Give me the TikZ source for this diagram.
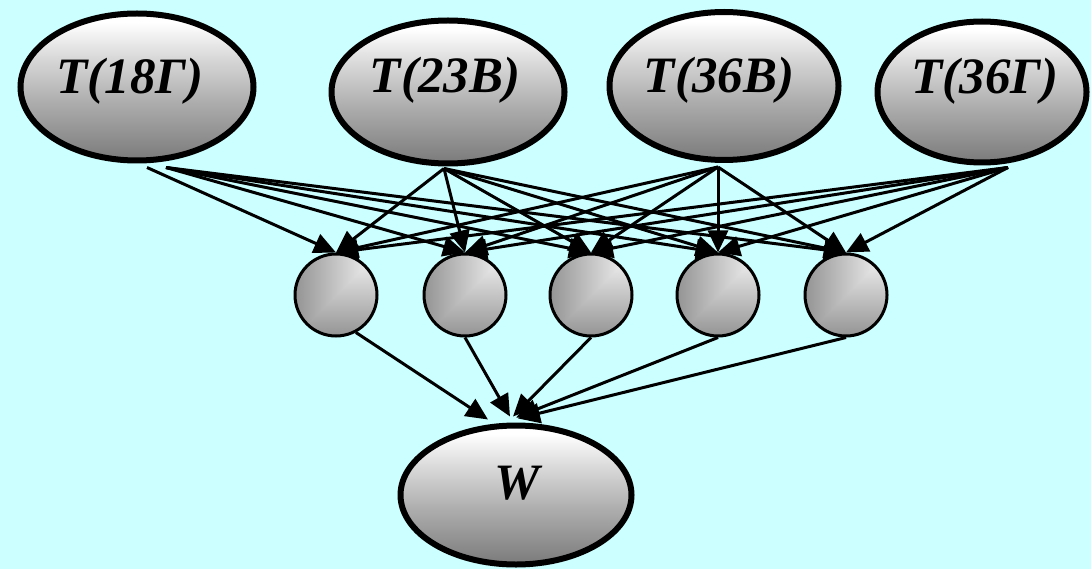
\documentclass[tikz,border=0pt]{standalone}
\usepackage{fontspec}
\setmainfont{Liberation Serif}
\usetikzlibrary{arrows.meta,shapes.geometric}
\definecolor{bgcyan}{HTML}{CCFFFF}
% white-to-grey fill for the ellipses, white on top
\pgfdeclareverticalshading{ovalfill}{100bp}{
  color(0bp)=(black!52); color(25bp)=(black!52); color(45bp)=(black!32);
  color(60bp)=(black!15); color(72bp)=(white); color(100bp)=(white)}
% corner fill for the hidden units: lightest at the upper right corner
\pgfdeclarefunctionalshading{unitfill}{\pgfpoint{0bp}{0bp}}{\pgfpoint{100bp}{100bp}}{}{
  25 sub 50 div 1 exch sub
  exch 25 sub 50 div 1 exch sub
  2 copy lt {exch} if pop
  0.38 mul 0.96 exch sub dup dup}
\begin{document}
\begin{tikzpicture}[x=1pt,y=-1pt,
  tell/.style={ellipse, draw=black, line width=6pt, inner sep=0pt,
    shading=ovalfill},
  hid/.style={circle, draw=black, line width=3pt, inner sep=0pt,
    minimum size=82pt, shading=unitfill},
  ttext/.style={anchor=base, inner sep=0pt,
    font=\fontsize{51}{54}\selectfont\bfseries\itshape},
  link/.style={line width=3pt, -{Triangle[length=22pt,width=20pt]}}]
  % canvas
  \fill[bgcyan] (0,0) rectangle (1091,569);
  \useasboundingbox (0,0) rectangle (1091,569);

  % input variables
  \node[tell, minimum width=233pt, minimum height=147pt] (t1) at (137,87) {};
  \node[tell, minimum width=233pt, minimum height=143pt] (t2) at (448,92) {};
  \node[tell, minimum width=229pt, minimum height=148pt] (t3) at (724,86) {};
  \node[tell, minimum width=209pt, minimum height=141pt] (t4) at (982,92) {};
  \node[ttext] at (130,94) {T(18Г)};
  \node[ttext] at (445,93) {T(23В)};
  \node[ttext] at (719,93) {T(36В)};
  \node[ttext] at (985,94) {T(36Г)};

  % hidden layer
  \node[hid] (c1) at (336,295) {};
  \node[hid] (c2) at (465,295) {};
  \node[hid] (c3) at (591,295) {};
  \node[hid] (c4) at (718,295) {};
  \node[hid] (c5) at (846,295) {};

  % output
  \node[tell, minimum width=231pt, minimum height=139pt] (w) at (516,495) {};
  \node[ttext] at (517,499) {W};

  % input -> hidden
  \draw[link] ([xshift=10pt,yshift=-4pt]t1.south) -- (c1.north);
  \foreach \c in {c2,c3,c4,c5}
    \draw[link] ([xshift=29pt,yshift=-4pt]t1.south) -- (\c.north);
  \foreach \c in {c1,c2,c3,c4,c5}{
    \draw[link] ([xshift=-4pt,yshift=-2pt]t2.south) -- (\c.north);
    \draw[link] ([xshift=-6pt,yshift=-4pt]t3.south) -- (\c.north);
    \draw[link] ([xshift=26pt,yshift=-2pt]t4.south) -- (\c.north);
  }

  % hidden -> output
  \draw[link] (c1.-62) -- ([xshift=-28pt,yshift=3pt]w.north);
  \draw[link] (c2.south) -- ([xshift=-6pt,yshift=6pt]w.north);
  \draw[link] (c3.south) -- ([xshift=-3pt,yshift=6pt]w.north);
  \draw[link] (c4.south) -- ([xshift=0pt,yshift=5pt]w.north);
  \draw[link] (c5.south) -- ([xshift=2pt,yshift=4pt]w.north);
\end{tikzpicture}
\end{document}
